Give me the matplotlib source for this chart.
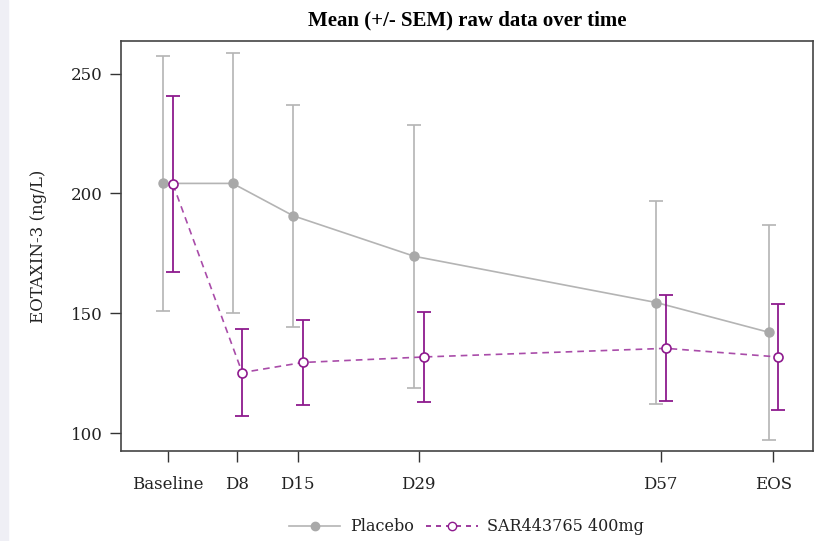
import matplotlib
matplotlib.use('Agg')
import matplotlib.pyplot as plt
from matplotlib.lines import Line2D

# visit days and tick labels
visits = ['Baseline', 'D8', 'D15', 'D29', 'D57', 'EOS']
days = [0, 8, 15, 29, 57, 70]

# mean and SEM per group
placebo_mean = [204.2, 204.2, 190.7, 173.8, 154.5, 142.1]
placebo_sem = [53.2, 54.2, 46.3, 54.8, 42.3, 44.8]
sar_mean = [203.8, 125.3, 129.5, 131.8, 135.4, 131.8]
sar_sem = [36.7, 18.0, 17.9, 18.8, 22.1, 22.0]

gray = '#b4b4b4'
purple = '#8e1a8e'

plt.rcParams['font.family'] = ['DejaVu Serif']

fig = plt.figure(figsize=(8.17, 5.41), dpi=100)
fig.patches.append(plt.Rectangle((0, 0), 0.010, 1, transform=fig.transFigure,
                                 color='#efeff5', zorder=0))
ax = fig.add_axes([0.1477, 0.1669, 0.8474, 0.7573])

xp = [d - 0.5 for d in days]
xs = [d + 0.6 for d in days]

ax.errorbar(xp, placebo_mean, yerr=placebo_sem, color=gray, ecolor=gray,
            lw=1.2, elinewidth=1.2, capsize=5, capthick=1.2,
            marker='o', ms=6.5, mfc='#a9a9a9', mec='#a9a9a9', zorder=2)
ax.plot(xs, sar_mean, color='#a94ca9', lw=1.2, ls=(0, (4, 3)), zorder=3)
ax.errorbar(xs, sar_mean, yerr=sar_sem, fmt='none', ecolor=purple,
            elinewidth=1.3, capsize=5, capthick=1.3, zorder=3)
ax.plot(xs, sar_mean, ls='none', marker='o', ms=6.5, mfc='white',
        mec=purple, mew=1.2, zorder=4)

ax.set_xlim(-5.45, 74.6)
ax.set_ylim(92.7, 263.6)
ax.set_xticks(days)
ax.set_xticklabels(visits)
ax.set_yticks([100, 150, 200, 250])
ax.tick_params(length=8, width=1, color='#333333', labelsize=12,
               labelcolor='#222222')
ax.tick_params(axis='x', pad=10)
ax.tick_params(axis='y', pad=5)
for s in ax.spines.values():
    s.set_color('#444444')
    s.set_linewidth(1.2)

ax.set_ylabel('EOTAXIN-3 (ng/L)', fontsize=12, labelpad=17, color='#222222')
ax.set_title('Mean (+/- SEM) raw data over time', fontsize=15,
             fontweight='bold', pad=11, family='Liberation Serif')

handles = [
    Line2D([], [], color=gray, lw=1.2, marker='o', ms=6, mfc='#a9a9a9', mec='#a9a9a9'),
    Line2D([], [], color=purple, lw=1.2, ls=(0, (3, 3)), marker='o', ms=6,
           mfc='white', mec=purple),
]
fig.legend(handles, ['Placebo', 'SAR443765 400mg'], loc='center',
           bbox_to_anchor=(0.571, 0.026), ncol=2, frameon=False, fontsize=11.5,
           handlelength=3.2, columnspacing=0.8, handletextpad=0.6,
           labelcolor='#222222')

fig.savefig('out.png', dpi=100)
